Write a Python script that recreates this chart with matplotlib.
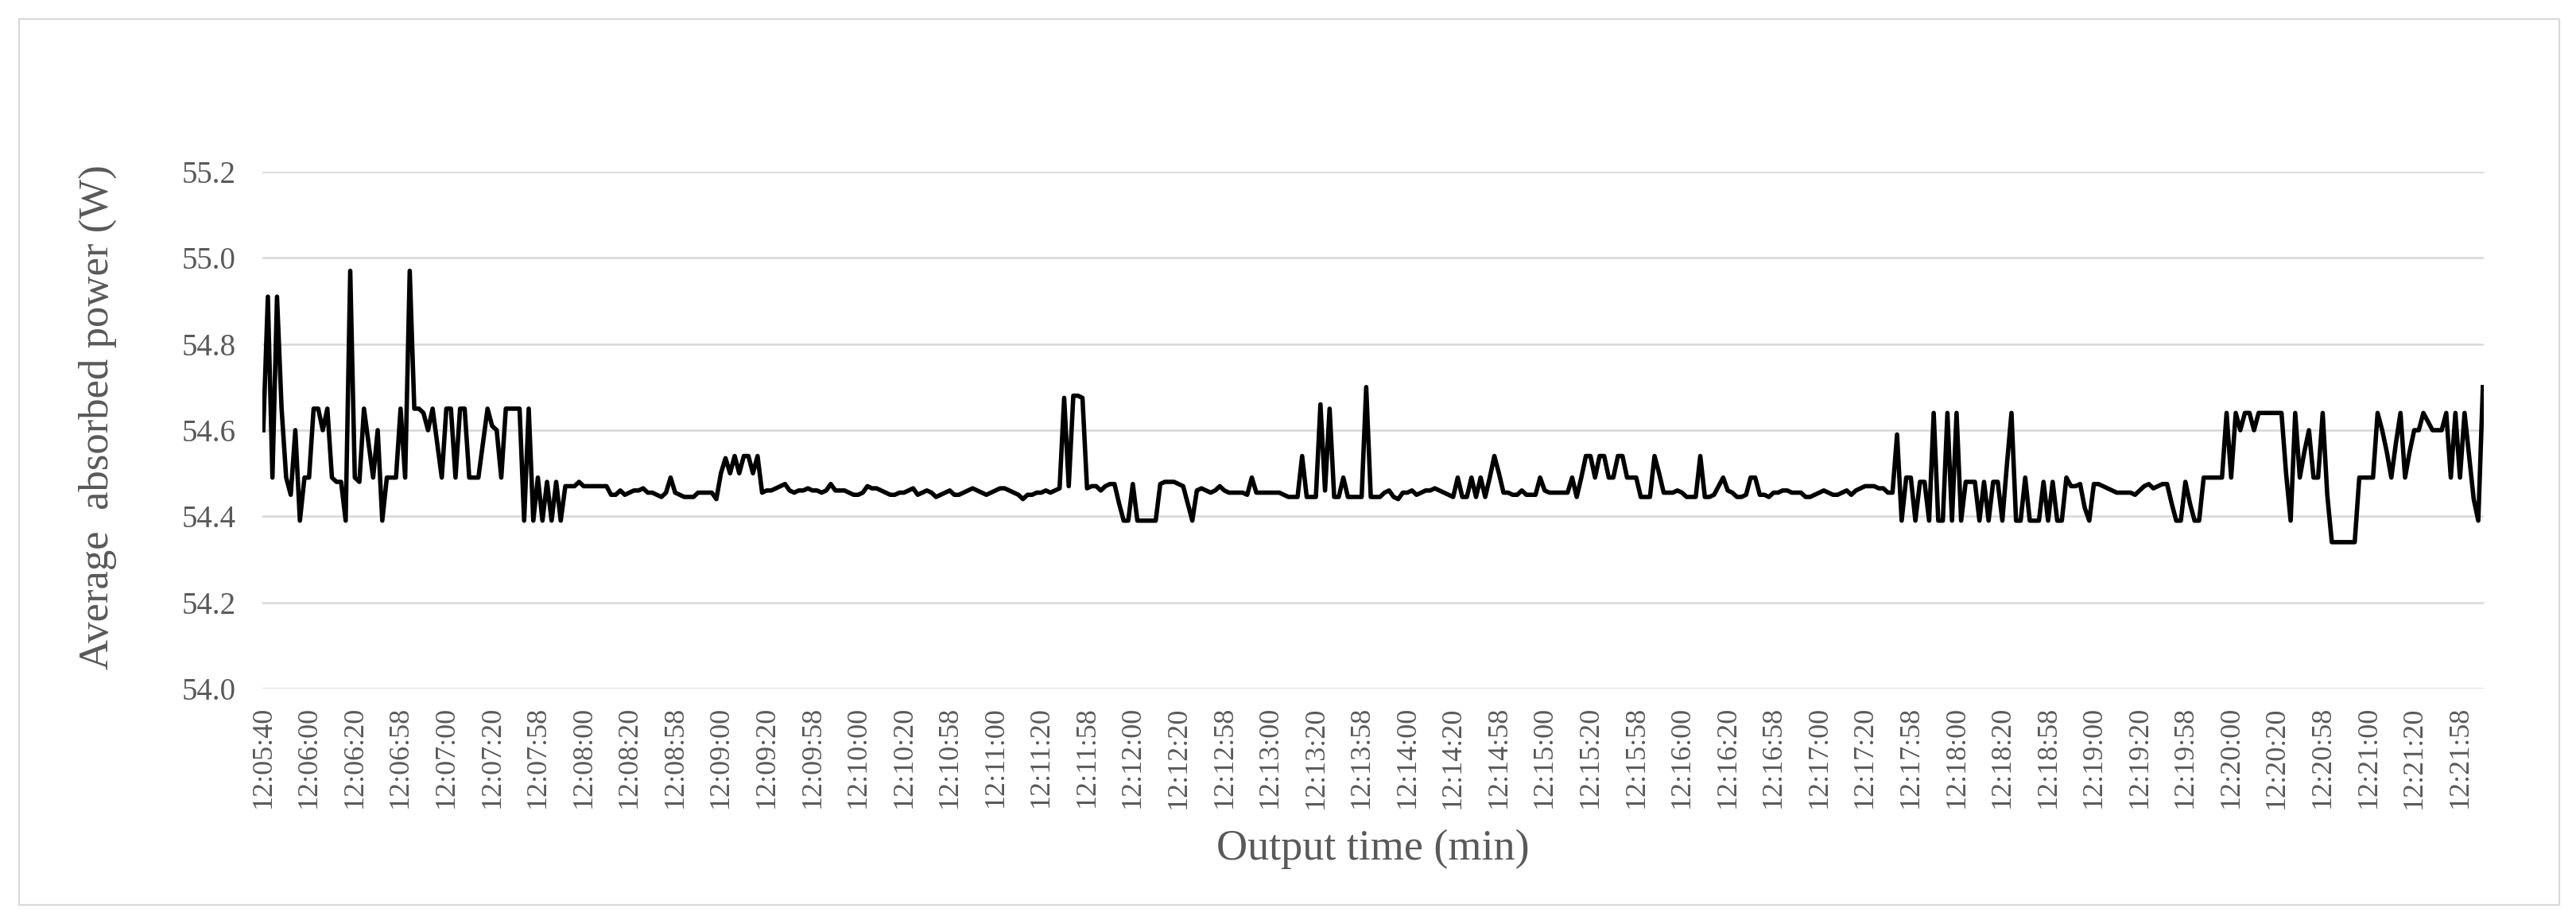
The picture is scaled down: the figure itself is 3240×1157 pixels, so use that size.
import numpy as np
import matplotlib
matplotlib.use("Agg")
import matplotlib.pyplot as plt
from matplotlib.patches import Rectangle

plt.rcParams['font.family'] = ['Liberation Serif', 'DejaVu Serif']

# average absorbed power (W), one row per label interval
power = [
    54.60, 54.91, 54.49, 54.91, 54.65, 54.49, 54.45, 54.60, 54.39, 54.49,
    54.49, 54.65, 54.65, 54.60, 54.65, 54.49, 54.48, 54.48, 54.39, 54.97,
    54.49, 54.48, 54.65, 54.57, 54.49, 54.60, 54.39, 54.49, 54.49, 54.49,
    54.65, 54.49, 54.97, 54.65, 54.65, 54.64, 54.60, 54.65, 54.57, 54.49,
    54.65, 54.65, 54.49, 54.65, 54.65, 54.49, 54.49, 54.49, 54.57, 54.65,
    54.61, 54.60, 54.49, 54.65, 54.65, 54.65, 54.65, 54.39, 54.65, 54.39,
    54.49, 54.39, 54.48, 54.39, 54.48, 54.39, 54.47, 54.47, 54.47, 54.48,
    54.47, 54.47, 54.47, 54.47, 54.47, 54.47, 54.45, 54.45, 54.46, 54.45,
    54.455, 54.46, 54.46, 54.465, 54.455, 54.455, 54.45, 54.445, 54.455, 54.49,
    54.455, 54.45, 54.445, 54.445, 54.445, 54.455, 54.455, 54.455, 54.455, 54.44,
    54.50, 54.535, 54.50, 54.54, 54.50, 54.54, 54.54, 54.50, 54.54, 54.455,
    54.46, 54.46, 54.465, 54.47, 54.475, 54.46, 54.455, 54.46, 54.46, 54.465,
    54.46, 54.46, 54.455, 54.46, 54.475, 54.46, 54.46, 54.46, 54.455, 54.45,
    54.45, 54.455, 54.47, 54.465, 54.465, 54.46, 54.455, 54.45, 54.45, 54.455,
    54.455, 54.46, 54.465, 54.45, 54.455, 54.46, 54.455, 54.445, 54.45, 54.455,
    54.46, 54.45, 54.45, 54.455, 54.46, 54.465, 54.46, 54.455, 54.45, 54.455,
    54.46, 54.465, 54.465, 54.46, 54.455, 54.45, 54.44, 54.45, 54.45, 54.455,
    54.455, 54.46, 54.455, 54.46, 54.465, 54.675, 54.47, 54.68, 54.68, 54.675,
    54.465, 54.47, 54.47, 54.46, 54.47, 54.475, 54.475, 54.43, 54.39, 54.39,
    54.475, 54.39, 54.39, 54.39, 54.39, 54.39, 54.475, 54.48, 54.48, 54.48,
    54.475, 54.47, 54.43, 54.39, 54.46, 54.465, 54.46, 54.455, 54.46, 54.47,
    54.46, 54.455, 54.455, 54.455, 54.455, 54.45, 54.49, 54.455, 54.455, 54.455,
    54.455, 54.455, 54.455, 54.45, 54.445, 54.445, 54.445, 54.54, 54.445, 54.445,
    54.445, 54.66, 54.46, 54.65, 54.445, 54.445, 54.49, 54.445, 54.445, 54.445,
    54.445, 54.70, 54.445, 54.445, 54.445, 54.455, 54.46, 54.445, 54.44, 54.455,
    54.455, 54.46, 54.45, 54.455, 54.46, 54.46, 54.465, 54.46, 54.455, 54.45,
    54.445, 54.49, 54.445, 54.445, 54.49, 54.445, 54.49, 54.445, 54.49, 54.54,
    54.50, 54.455, 54.455, 54.45, 54.45, 54.46, 54.45, 54.45, 54.45, 54.49,
    54.46, 54.455, 54.455, 54.455, 54.455, 54.455, 54.49, 54.445, 54.49, 54.54,
    54.54, 54.49, 54.54, 54.54, 54.49, 54.49, 54.54, 54.54, 54.49, 54.49,
    54.49, 54.445, 54.445, 54.445, 54.54, 54.50, 54.455, 54.455, 54.455, 54.46,
    54.455, 54.445, 54.445, 54.445, 54.54, 54.445, 54.445, 54.45, 54.47, 54.49,
    54.46, 54.455, 54.445, 54.445, 54.45, 54.49, 54.49, 54.45, 54.45, 54.445,
    54.455, 54.455, 54.46, 54.46, 54.455, 54.455, 54.455, 54.445, 54.445, 54.45,
    54.455, 54.46, 54.455, 54.45, 54.45, 54.455, 54.46, 54.45, 54.46, 54.465,
    54.47, 54.47, 54.47, 54.465, 54.465, 54.455, 54.455, 54.59, 54.39, 54.49,
    54.49, 54.39, 54.48, 54.48, 54.39, 54.64, 54.39, 54.39, 54.64, 54.39,
    54.64, 54.39, 54.48, 54.48, 54.48, 54.39, 54.48, 54.39, 54.48, 54.48,
    54.39, 54.52, 54.64, 54.39, 54.39, 54.49, 54.39, 54.39, 54.39, 54.48,
    54.39, 54.48, 54.39, 54.39, 54.49, 54.47, 54.47, 54.475, 54.42, 54.39,
    54.475, 54.475, 54.47, 54.465, 54.46, 54.455, 54.455, 54.455, 54.455, 54.45,
    54.46, 54.47, 54.475, 54.465, 54.47, 54.475, 54.475, 54.43, 54.39, 54.39,
    54.48, 54.43, 54.39, 54.39, 54.49, 54.49, 54.49, 54.49, 54.49, 54.64,
    54.49, 54.64, 54.60, 54.64, 54.64, 54.60, 54.64, 54.64, 54.64, 54.64,
    54.64, 54.64, 54.50, 54.39, 54.64, 54.49, 54.55, 54.60, 54.49, 54.49,
    54.64, 54.45, 54.34, 54.34, 54.34, 54.34, 54.34, 54.34, 54.49, 54.49,
    54.49, 54.49, 54.64, 54.60, 54.55, 54.49, 54.57, 54.64, 54.49, 54.55,
    54.60, 54.60, 54.64, 54.62, 54.60, 54.60, 54.60, 54.64, 54.49, 54.64,
    54.49, 54.64, 54.54, 54.44, 54.39, 54.70,
]

# category labels shown every 10th point
time_labels = ["12:05:40"]
for m in range(6, 22):
    for s in ["00", "20", "58"]:
        time_labels.append("12:%02d:%s" % (m, s))

label_step = 10
y_ticks = [54.0, 54.2, 54.4, 54.6, 54.8, 55.0, 55.2]

W, H = 3240, 1157
fig = plt.figure(figsize=(W / 100, H / 100), dpi=100)
fig.patch.set_facecolor("white")

# light frame around the chart
fig.patches.append(Rectangle((24 / W, 1 - 1138 / H), (3219 - 24) / W, (1138 - 24) / H,
                             transform=fig.transFigure, fill=False,
                             edgecolor="#d9d9d9", linewidth=1.6))

ax = fig.add_axes([330 / W, 1 - 866 / H, (3124 - 330) / W, (866 - 216) / H])

x = np.arange(len(power))
ax.plot(x, power, color="black", linewidth=4.0, solid_joinstyle="round", zorder=3)

ax.set_ylim(54.0, 55.2)
ax.set_xlim(-0.2, len(power) - 1 + 0.2)
ax.set_yticks(y_ticks)
ax.set_yticklabels(["%.1f" % v for v in y_ticks])
ax.yaxis.grid(True, color="#d9d9d9", linewidth=1.9)
ax.set_axisbelow(True)

tick_pos = list(range(0, len(power), label_step))
ax.set_xticks(tick_pos)
ax.set_xticklabels(time_labels[:len(tick_pos)], rotation=90, va="top", ha="center")

for s in ax.spines.values():
    s.set_visible(False)

ax.tick_params(axis="y", length=0, pad=24, labelsize=28, labelcolor="#595959")
ax.tick_params(axis="x", length=0, pad=16, labelsize=26, labelcolor="#595959")

fig.text(123 / W, 1 - 525 / H, "Average  absorbed power (W)", rotation=90,
         ha="center", va="center", fontsize=38, color="#595959")
fig.text(1727 / W, 1 - 1068 / H, "Output time (min)", ha="center", va="center",
         fontsize=39, color="#595959")

fig.savefig("out.png", dpi=100)
